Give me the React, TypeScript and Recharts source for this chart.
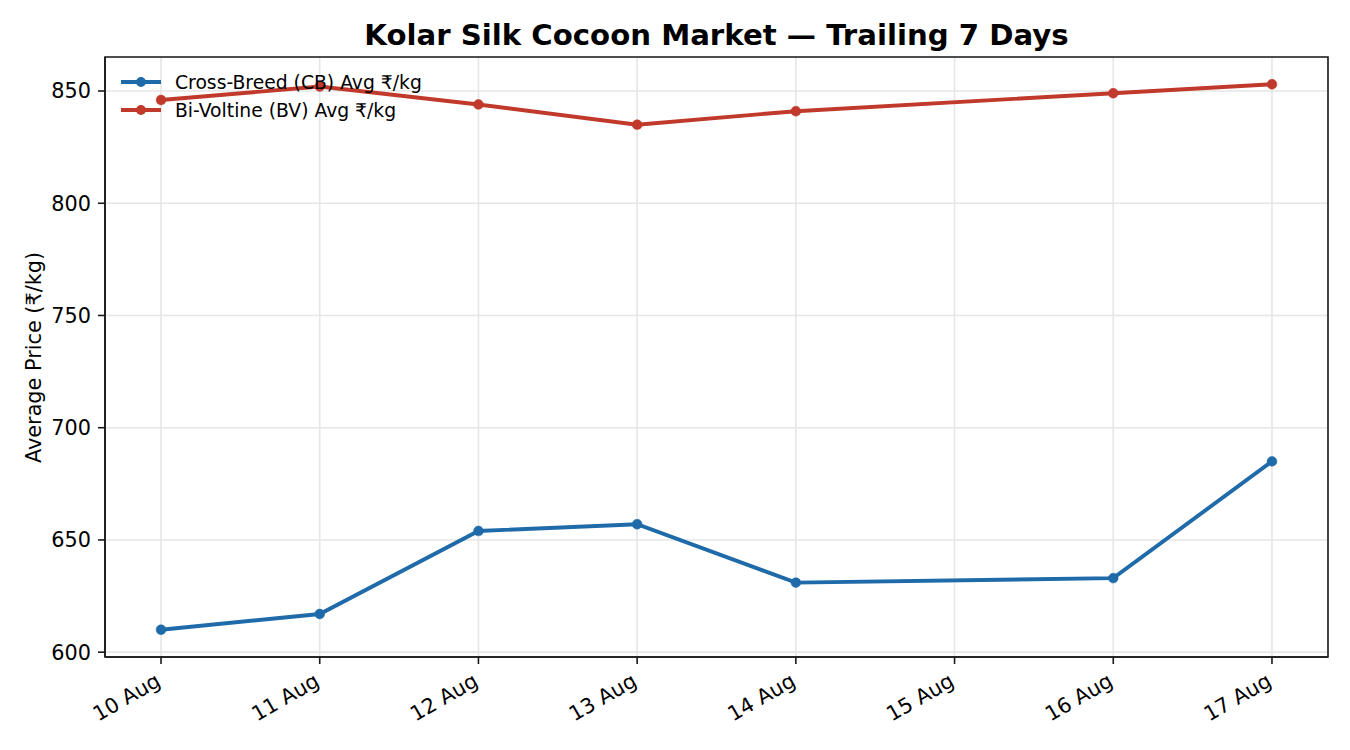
import React from 'react';
import { LineChart, Line, XAxis, YAxis, CartesianGrid, ReferenceArea } from 'recharts';

const dayNumbers = [10, 11, 12, 13, 14, 16, 17];
const crossBreed = [610, 617, 654, 657, 631, 633, 685];
const biVoltine = [846, 852, 844, 835, 841, 849, 853];
const xTicks = [10, 11, 12, 13, 14, 15, 16, 17];
const xTickLabels = ['10 Aug', '11 Aug', '12 Aug', '13 Aug', '14 Aug', '15 Aug', '16 Aug', '17 Aug'];
const yTicks = [600, 650, 700, 750, 800, 850];
const seriesNames = ['Cross-Breed (CB) Avg ₹/kg', 'Bi-Voltine (BV) Avg ₹/kg'];
const title = 'Kolar Silk Cocoon Market — Trailing 7 Days';
const yLabel = 'Average Price (₹/kg)';

const X_DOMAIN: [number, number] = [9.647, 17.353];
const Y_DOMAIN: [number, number] = [597.85, 865.15];

const CB_COLOR = '#1f6aa8';
const BV_COLOR = '#c0392b';
const FONT = "'DejaVu Sans', sans-serif";
const SPINE = '#1a1a1a';
const LW = 3.9;
const DOT_R = 4.9;

const data = dayNumbers.map((d, i) => ({ day: d, cb: crossBreed[i], bv: biVoltine[i] }));

const labelFor = (v: number) => {
  const idx = xTicks.indexOf(v);
  return idx >= 0 ? xTickLabels[idx] : String(v);
};

const XTick = (props: any) => {
  const { x, y, payload } = props;
  return (
    <g transform={`translate(${x + 1},${y + 21})`}>
      <text
        x={0}
        y={0}
        textAnchor="end"
        transform="rotate(-30)"
        fontSize={20.8}
        fontFamily={FONT}
        fill="#000"
      >
        {labelFor(payload.value)}
      </text>
    </g>
  );
};

export default function App() {
  return (
    <div style={{ position: 'absolute', left: 0, top: 0, width: 1350, height: 750, background: '#fff' }}>
      <LineChart
        width={1350}
        height={750}
        data={data}
        margin={{ top: 57, right: 22, left: 0, bottom: 0 }}
      >
        <CartesianGrid stroke="#e6e6e6" strokeWidth={1.6} horizontal vertical />
        <XAxis
          dataKey="day"
          type="number"
          domain={X_DOMAIN}
          allowDataOverflow
          ticks={xTicks}
          interval={0}
          height={93}
          tickSize={7}
          tickMargin={0}
          tick={<XTick />}
          axisLine={{ stroke: SPINE, strokeWidth: 1.6 }}
          tickLine={{ stroke: SPINE, strokeWidth: 1.6 }}
        />
        <YAxis
          type="number"
          domain={Y_DOMAIN}
          allowDataOverflow
          ticks={yTicks}
          interval={0}
          width={105}
          tickSize={7}
          tickMargin={7}
          tick={{ fontSize: 20.8, fill: '#000', fontFamily: FONT }}
          axisLine={{ stroke: SPINE, strokeWidth: 1.6 }}
          tickLine={{ stroke: SPINE, strokeWidth: 1.6 }}
        />
        <ReferenceArea
          x1={X_DOMAIN[0]}
          x2={X_DOMAIN[1]}
          y1={Y_DOMAIN[0]}
          y2={Y_DOMAIN[1]}
          fill="none"
          fillOpacity={0}
          stroke={SPINE}
          strokeWidth={1.6}
          ifOverflow="visible"
        />
        <Line
          dataKey="cb"
          name={seriesNames[0]}
          stroke={CB_COLOR}
          strokeWidth={LW}
          dot={{ r: DOT_R, fill: CB_COLOR, stroke: CB_COLOR, strokeWidth: 0.5 }}
          activeDot={false}
          isAnimationActive={false}
        />
        <Line
          dataKey="bv"
          name={seriesNames[1]}
          stroke={BV_COLOR}
          strokeWidth={LW}
          dot={{ r: DOT_R, fill: BV_COLOR, stroke: BV_COLOR, strokeWidth: 0.5 }}
          activeDot={false}
          isAnimationActive={false}
        />
      </LineChart>
      <svg
        width={1350}
        height={750}
        style={{ position: 'absolute', left: 0, top: 0, pointerEvents: 'none' }}
      >
        <text
          x={716.5}
          y={45}
          textAnchor="middle"
          fontSize={29.2}
          fontWeight="bold"
          fontFamily={FONT}
          fill="#000"
        >
          {title}
        </text>
        <text
          transform="translate(41,357.5) rotate(-90)"
          textAnchor="middle"
          fontSize={20.8}
          fontFamily={FONT}
          fill="#000"
        >
          {yLabel}
        </text>
        {seriesNames.map((name, i) => {
          const cy = 82 + i * 28;
          const color = i === 0 ? CB_COLOR : BV_COLOR;
          return (
            <g key={name}>
              <line x1={121} x2={161} y1={cy} y2={cy} stroke={color} strokeWidth={LW} />
              <circle cx={141} cy={cy} r={DOT_R} fill={color} />
              <text x={175} y={cy} dy="0.36em" fontSize={18.75} fontFamily={FONT} fill="#000">
                {name}
              </text>
            </g>
          );
        })}
      </svg>
    </div>
  );
}
